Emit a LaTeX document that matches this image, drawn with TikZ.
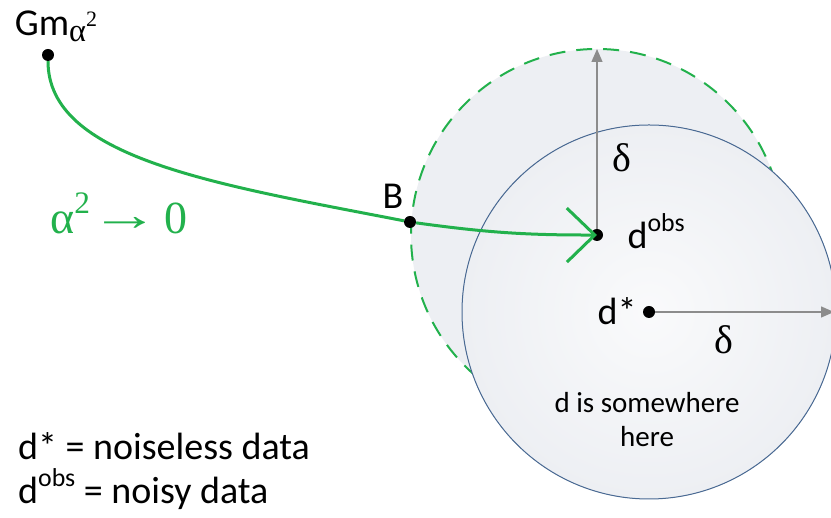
\documentclass[tikz,border=0pt]{standalone}
\usepackage{fontspec}
\usepackage{graphicx}
\setmainfont{Carlito}
\newfontfamily\greek{Liberation Serif}
\usetikzlibrary{arrows.meta}
\definecolor{CurveGreen}{HTML}{22B14C}
\definecolor{RingBlue}{HTML}{4A6A94}
\definecolor{SpokeGray}{HTML}{8C8C8C}
\definecolor{BallFill}{HTML}{EDEFF3}
\newcommand{\up}[1]{\raisebox{0.45em}[0.7em][0pt]{\scalebox{0.68}{#1}}}
\newcommand{\down}[1]{\raisebox{-0.15em}{\scalebox{0.85}{#1}}}

\begin{document}
\begin{tikzpicture}[x=1pt, y=1pt,
    dot/.style={circle, fill=black, inner sep=0pt, minimum size=12pt},
    lab/.style={font=\fontsize{38}{41}\selectfont},
    sym/.style={font=\greek\fontsize{40}{44}\selectfont},
    spoke/.style={SpokeGray, line width=1.3pt, -{Triangle[length=13pt, width=11pt]}}]
    \useasboundingbox (0,0) rectangle (831,518);
    \coordinate (cobs) at (597,283);
    \coordinate (cstar) at (649,206);
    \fill[BallFill] (cobs) circle (186);
    \draw[CurveGreen, line width=2pt, dash pattern=on 16pt off 11pt] (cobs) circle (186);
    \fill[inner color=white!70!BallFill, outer color=BallFill] (cstar) circle (187);
    \draw[RingBlue, line width=1pt] (cstar) circle (187);
    \node[dot] (gm) at (48,463) {};
    \node[dot] (b) at (410,296) {};
    \node[dot] (dobs) at (cobs) {};
    \node[dot] (dstar) at (cstar) {};
    \coordinate (top) at (597,469);
    \coordinate (east) at (834,206);
    \draw[spoke] (dobs) -- (top);
    \draw[spoke] (dstar) -- (east);
    \draw[CurveGreen, line width=3pt] (gm) .. controls (48,360) and (214,334) .. (b);
    \draw[CurveGreen, line width=3pt, -{Straight Barb[length=28pt, width=54pt]}] (b) to[bend right=4] (dobs.center);
    \node[lab] (gmlab) at (56,492) {Gm\down{\greek α\up{2}}};
    \node[lab] (blab) at (393,322) {B};
    \node[lab, anchor=west] (obslab) at (624,283) {d\up{obs}};
    \node[lab, anchor=east] (starlab) at (640,207) {d*};
    \node[sym] (dtop) at (622,360) {δ};
    \node[sym] (dright) at (724,178) {δ};
    \node[sym, font=\greek\fontsize{46}{50}\selectfont, text=CurveGreen] (limit) at (119,300) {α\up{2}\raisebox{0.08em}{\scalebox{1.5}[1]{→}}\hspace{0.12em}0};
    \node[font=\fontsize{29}{34}\selectfont, align=center] (where) at (647,98) {d is somewhere\\here};
    \node[lab, anchor=base west, inner sep=0pt] (noiseless) at (18,58) {d* = noiseless data};
    \node[lab, anchor=base west, inner sep=0pt] (noisy) at (18,14) {d\up{obs} = noisy data};
\end{tikzpicture}
\end{document}
